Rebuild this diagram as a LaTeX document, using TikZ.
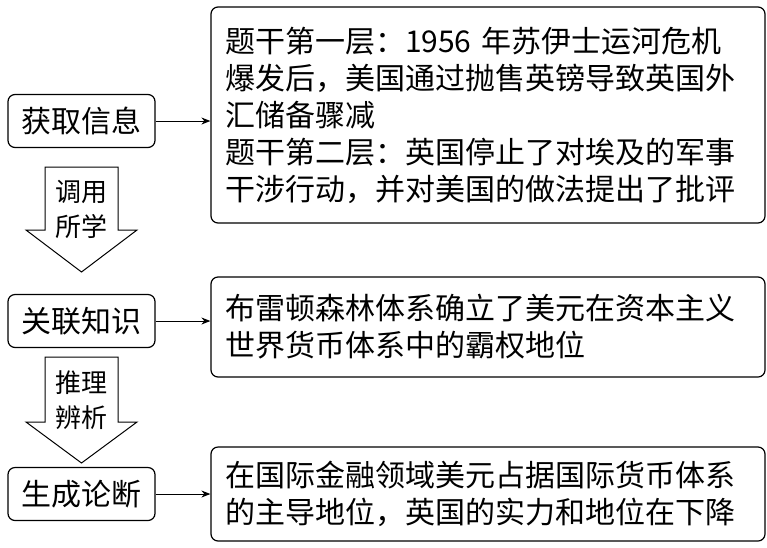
\documentclass[tikz,border=0pt]{standalone}
\usepackage{fontspec}
\setmainfont{Noto Sans CJK SC}
\usetikzlibrary{arrows.meta}
\begin{document}
\begin{tikzpicture}[
        x=1pt, y=-1pt,
        stepbox/.style={
            draw,
            line width=1.2pt,
            rounded corners=7pt,
            minimum width=147pt,
            minimum height=53pt,
            inner sep=0pt,
            font=\fontsize{30}{36}\selectfont
        },
        textbox/.style={
            draw,
            line width=1.2pt,
            rounded corners=7pt,
            align=left,
            text width=526pt,
            inner xsep=14pt,
            inner ysep=0pt,
            font=\fontsize{30}{37}\selectfont
        },
        hint/.style={
            align=center,
            inner sep=0pt,
            font=\fontsize{26}{35}\selectfont
        },
        bigarrow/.style={draw, line width=1pt}
    ]
        \useasboundingbox (0,0) rectangle (767,547);

        % left column
        \node[stepbox] (info) at (81.5,121) {获取信息};
        \node[stepbox] (link) at (81.5,321) {关联知识};
        \node[stepbox] (conclude) at (81.5,494) {生成论断};

        % right column
        \node[textbox, minimum height=216pt] (layer) at (488,115) {题干第一层：1956 年苏伊士运河危机\\爆发后，美国通过抛售英镑导致英国外\\汇储备骤减\\题干第二层：英国停止了对埃及的军事\\干涉行动，并对美国的做法提出了批评};
        \node[textbox, minimum height=100pt] (system) at (488,327) {布雷顿森林体系确立了美元在资本主义\\世界货币体系中的霸权地位};
        \node[textbox, minimum height=94pt] (result) at (488,494) {在国际金融领域美元占据国际货币体系\\的主导地位，英国的实力和地位在下降};

        \draw[-{Stealth[length=9pt,width=7pt]}, line width=1pt] (info) -- (info -| layer.west);
        \draw[-{Stealth[length=9pt,width=7pt]}, line width=1pt] (link) -- (link -| system.west);
        \draw[-{Stealth[length=9pt,width=7pt]}, line width=1pt] (conclude) -- (conclude -| result.west);

        % block arrows
        \draw[bigarrow] (45,167) -- (118,167) -- (118,230) -- (137,230) -- (81.5,272) -- (26,230) -- (45,230) -- cycle;
        \node[hint] (callLabel) at (81.5,209) {调用\\所学};
        \draw[bigarrow] (45,357) -- (118,357) -- (118,422) -- (137,422) -- (81.5,463) -- (26,422) -- (45,422) -- cycle;
        \node[hint] (reasonLabel) at (81.5,400) {推理\\辨析};
    \end{tikzpicture}
\end{document}
